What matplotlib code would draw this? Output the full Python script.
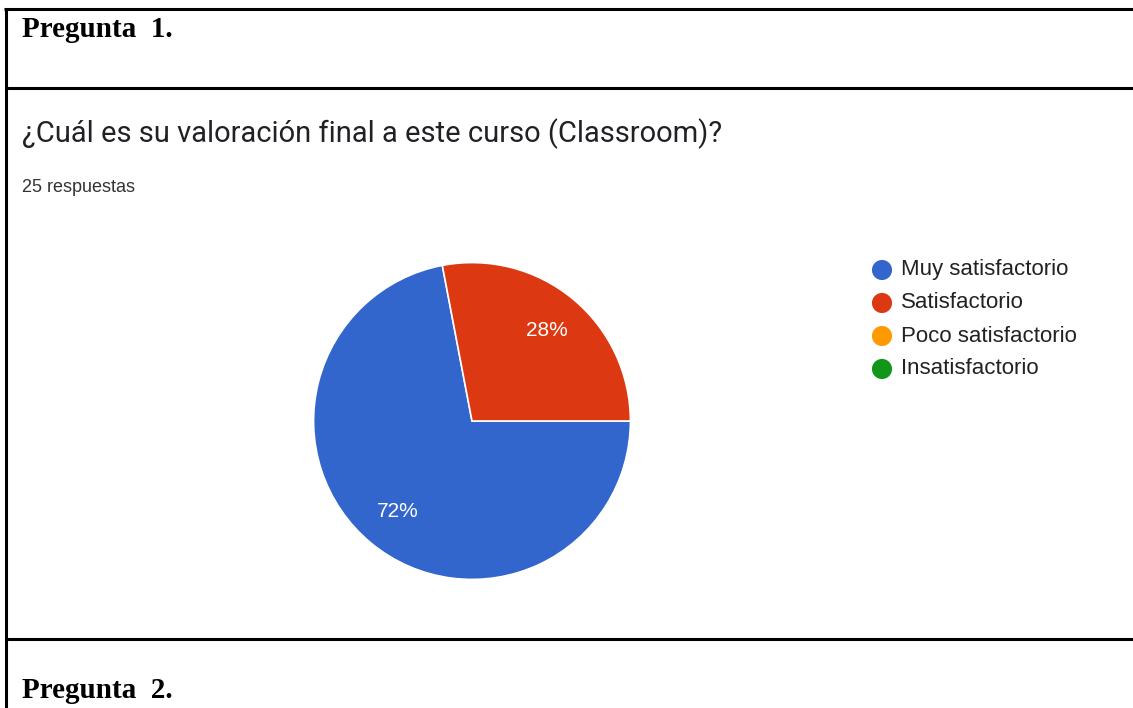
import matplotlib
matplotlib.use('Agg')
import matplotlib.pyplot as plt

# Survey answers for question 1
categories = ['Muy satisfactorio', 'Satisfactorio', 'Poco satisfactorio', 'Insatisfactorio']
shares = [72, 28, 0, 0]
colors = ['#3366cc', '#dc3912', '#ff9900', '#109618']
question = '¿Cuál es su valoración final a este curso (Classroom)?'
n_responses = '25 respuestas'
headers = ['Pregunta  1.', 'Pregunta  2.']

W, H = 1133, 708
fig = plt.figure(figsize=(W / 100, H / 100), dpi=100)
fig.patch.set_facecolor('white')

# full-size axes in pixel coordinates for the table frame and text
frame = fig.add_axes([0, 0, 1, 1])
frame.set_xlim(0, W)
frame.set_ylim(H, 0)
frame.axis('off')

lw = 2.2
frame.plot([4, W], [9, 9], color='black', lw=lw, solid_capstyle='butt')
frame.plot([5.5, 5.5], [8, H], color='black', lw=lw, solid_capstyle='butt')
frame.plot([5, W], [88, 88], color='black', lw=lw, solid_capstyle='butt')
frame.plot([5, W], [639, 639], color='black', lw=lw, solid_capstyle='butt')

frame.text(22, 37, headers[0], fontsize=21, fontweight='bold',
           family='Liberation Serif', va='baseline', ha='left')
frame.text(22, 698, headers[1], fontsize=21, fontweight='bold',
           family='Liberation Serif', va='baseline', ha='left')

frame.text(22, 134, question, fontsize=21, family='Roboto',
           color='#202124', va='center', ha='left')
frame.text(22, 187, n_responses, fontsize=13, family='Liberation Sans',
           color='#333333', va='center', ha='left')

# pie chart
cx, cy, r = 472, 421, 160
ax = fig.add_axes([(cx - r) / W, (H - cy - r) / H, 2 * r / W, 2 * r / H])
vals = [v for v in shares if v > 0]
cols = [c for v, c in zip(shares, colors) if v > 0]
ax.pie(vals, colors=cols, startangle=0, counterclock=False,
       autopct='%1.0f%%', pctdistance=0.74,
       wedgeprops=dict(edgecolor='white', linewidth=1.2),
       textprops=dict(color='white', fontsize=15, family='Liberation Sans'))
ax.set_xlim(-1.01, 1.01)
ax.set_ylim(-1.01, 1.01)
ax.set_aspect('equal')

# legend: one dot + label per answer option
for i, (lab, col) in enumerate(zip(categories, colors)):
    y = 270 + i * 33
    frame.scatter([882], [y], s=210, color=col, edgecolors='none')
    frame.text(901, y, lab, fontsize=16, family='Liberation Sans',
               color='#222222', va='center', ha='left')

plt.savefig('out.png', dpi=100, facecolor='white')
